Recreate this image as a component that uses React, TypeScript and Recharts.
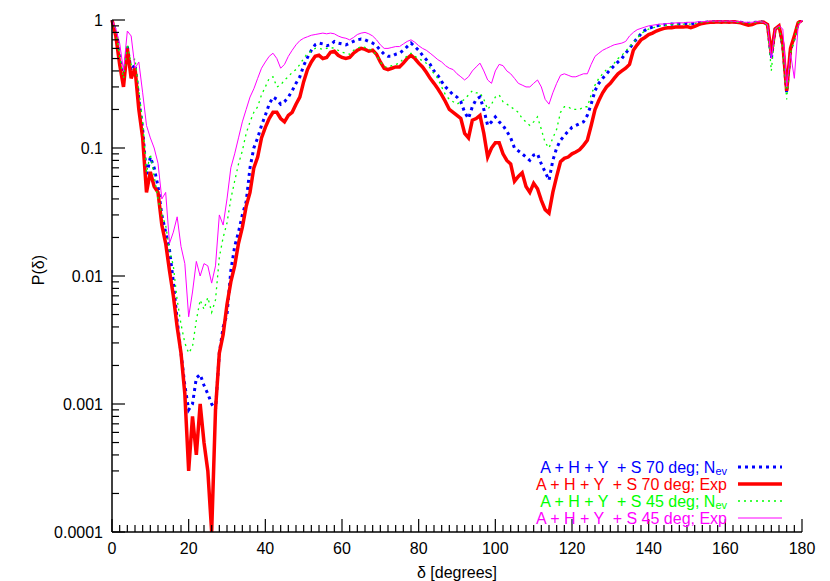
import React from 'react';
import { ComposedChart, Line, XAxis, YAxis } from 'recharts';

// angle in degrees, 1 degree step
const angles = Array.from({ length: 181 }, (_, i) => i);

const nev70 = [
  1.0, 0.8, 0.5, 0.33, 0.62, 0.4, 0.45, 0.24, 0.14, 0.06,
  0.085, 0.07, 0.05, 0.03, 0.022, 0.016, 0.009, 0.0045, 0.0025, 0.0014,
  0.0009, 0.001, 0.0016, 0.0017, 0.0014, 0.0012, 0.001, 0.0009, 0.0025, 0.004,
  0.005, 0.011, 0.017, 0.022, 0.03, 0.038, 0.07, 0.1, 0.12, 0.15,
  0.18, 0.22, 0.25, 0.24, 0.22, 0.23, 0.25, 0.28, 0.32, 0.36,
  0.44, 0.51, 0.58, 0.64, 0.66, 0.65, 0.63, 0.64, 0.68, 0.66,
  0.65, 0.64, 0.66, 0.68, 0.7, 0.71, 0.7, 0.68, 0.66, 0.63,
  0.58, 0.54, 0.52, 0.52, 0.54, 0.55, 0.58, 0.62, 0.66, 0.62,
  0.58, 0.53, 0.49, 0.45, 0.4, 0.37, 0.33, 0.3, 0.28, 0.26,
  0.25, 0.23, 0.19, 0.17, 0.21, 0.24, 0.25, 0.2, 0.15, 0.16,
  0.175, 0.16, 0.15, 0.135, 0.12, 0.1, 0.095, 0.09, 0.085, 0.08,
  0.088, 0.09, 0.075, 0.065, 0.056, 0.08, 0.1, 0.115, 0.125, 0.135,
  0.145, 0.15, 0.155, 0.16, 0.18, 0.22, 0.28, 0.32, 0.35, 0.38,
  0.41, 0.44, 0.47, 0.5, 0.55, 0.6, 0.66, 0.72, 0.78, 0.83,
  0.86, 0.88, 0.9, 0.91, 0.92, 0.92, 0.93, 0.92, 0.93, 0.93,
  0.94, 0.93, 0.94, 0.95, 0.96, 0.96, 0.97, 0.97, 0.97, 0.97,
  0.97, 0.97, 0.97, 0.96, 0.96, 0.95, 0.94, 0.95, 0.96, 0.97,
  0.96, 0.92, 0.5, 0.85, 0.9, 0.62, 0.27, 0.58, 0.72, 0.95, 1.0,
];

const exp70 = [
  1.0, 0.75, 0.45, 0.3, 0.6, 0.35, 0.42, 0.2, 0.12, 0.045,
  0.065, 0.05, 0.045, 0.025, 0.018, 0.011, 0.007, 0.004, 0.0025, 0.0012,
  0.0003, 0.0008, 0.0004, 0.001, 0.0005, 0.0003, 0.0001, 0.0009, 0.0025, 0.0035,
  0.006, 0.009, 0.012, 0.018, 0.024, 0.035, 0.045, 0.07, 0.085, 0.12,
  0.145, 0.17, 0.19, 0.19, 0.17, 0.16, 0.18, 0.19, 0.22, 0.25,
  0.33, 0.41, 0.47, 0.52, 0.53, 0.5, 0.51, 0.56, 0.57, 0.53,
  0.51, 0.5, 0.51, 0.55, 0.58, 0.6, 0.59, 0.57, 0.58, 0.54,
  0.47, 0.42, 0.41, 0.42, 0.43, 0.43, 0.46, 0.5, 0.53, 0.5,
  0.46, 0.43, 0.39, 0.35, 0.32, 0.29, 0.26, 0.23, 0.2, 0.19,
  0.18, 0.17, 0.13, 0.12, 0.165, 0.17, 0.18, 0.13, 0.085, 0.1,
  0.11, 0.11, 0.09, 0.08, 0.075, 0.055, 0.06, 0.064, 0.05, 0.045,
  0.053, 0.048, 0.039, 0.033, 0.031, 0.045, 0.06, 0.078, 0.083, 0.085,
  0.09, 0.093, 0.097, 0.105, 0.115, 0.15, 0.2, 0.235, 0.27, 0.3,
  0.32, 0.35, 0.38, 0.4, 0.42, 0.45, 0.58, 0.64, 0.7, 0.73,
  0.77, 0.79, 0.82, 0.84, 0.86, 0.87, 0.87, 0.88, 0.88, 0.88,
  0.89, 0.87, 0.89, 0.92, 0.94, 0.95, 0.96, 0.96, 0.97, 0.96,
  0.97, 0.96, 0.97, 0.96, 0.95, 0.93, 0.91, 0.92, 0.95, 0.96,
  0.96, 0.92, 0.55, 0.85, 0.9, 0.65, 0.28, 0.6, 0.75, 0.95, 1.0,
];

const nev45 = [
  1.0, 0.82, 0.52, 0.35, 0.65, 0.45, 0.5, 0.28, 0.16, 0.064,
  0.09, 0.06, 0.04, 0.03, 0.025, 0.016, 0.012, 0.0065, 0.0042, 0.003,
  0.0025, 0.0028, 0.0045, 0.0065, 0.0055, 0.0068, 0.0052, 0.0065, 0.014, 0.02,
  0.026, 0.04, 0.055, 0.075, 0.095, 0.13, 0.16, 0.19, 0.21, 0.26,
  0.3, 0.35, 0.36, 0.3, 0.31, 0.34, 0.36, 0.39, 0.41, 0.45,
  0.5, 0.55, 0.57, 0.6, 0.6, 0.59, 0.6, 0.61, 0.6, 0.58,
  0.56, 0.55, 0.54, 0.58, 0.6, 0.62, 0.61, 0.59, 0.58, 0.53,
  0.47, 0.43, 0.43, 0.44, 0.45, 0.46, 0.5, 0.52, 0.55, 0.52,
  0.5, 0.48, 0.46, 0.42, 0.38, 0.35, 0.3, 0.26, 0.24, 0.23,
  0.22, 0.23, 0.24, 0.26, 0.28, 0.27, 0.27, 0.24, 0.2, 0.22,
  0.25, 0.26, 0.23, 0.22, 0.21, 0.2, 0.19, 0.17, 0.16, 0.15,
  0.16, 0.175, 0.14, 0.11, 0.1, 0.12, 0.14, 0.19, 0.21, 0.21,
  0.2, 0.2, 0.2, 0.21, 0.21, 0.26, 0.31, 0.35, 0.38, 0.41,
  0.43, 0.46, 0.5, 0.53, 0.57, 0.62, 0.66, 0.72, 0.78, 0.82,
  0.85, 0.87, 0.88, 0.9, 0.91, 0.91, 0.92, 0.92, 0.93, 0.93,
  0.93, 0.93, 0.94, 0.95, 0.96, 0.96, 0.97, 0.97, 0.97, 0.97,
  0.97, 0.97, 0.97, 0.96, 0.96, 0.95, 0.94, 0.95, 0.96, 0.97,
  0.96, 0.9, 0.4, 0.85, 0.9, 0.6, 0.24, 0.55, 0.7, 0.95, 1.0,
];

const exp45 = [
  1.0, 0.85, 0.66, 0.4, 0.82, 0.75, 0.42, 0.47, 0.27, 0.15,
  0.12, 0.1, 0.076, 0.04, 0.045, 0.018, 0.022, 0.029, 0.017, 0.0125,
  0.0048, 0.0075, 0.013, 0.01, 0.0125, 0.012, 0.0088, 0.012, 0.03, 0.025,
  0.04, 0.07, 0.09, 0.12, 0.16, 0.2, 0.25, 0.29, 0.35, 0.42,
  0.47, 0.52, 0.55, 0.5, 0.42, 0.45, 0.52, 0.58, 0.64, 0.69,
  0.72, 0.74, 0.76, 0.77, 0.78, 0.79, 0.78, 0.79, 0.78, 0.75,
  0.73, 0.72, 0.7, 0.73, 0.77, 0.79, 0.8, 0.78, 0.75, 0.7,
  0.64, 0.6, 0.6, 0.61, 0.62, 0.62, 0.65, 0.68, 0.7, 0.67,
  0.63, 0.6, 0.58, 0.55, 0.52, 0.49, 0.47, 0.44, 0.42, 0.41,
  0.38, 0.36, 0.34, 0.36, 0.4, 0.43, 0.46, 0.4, 0.34, 0.32,
  0.4, 0.45, 0.44, 0.4, 0.38, 0.35, 0.32, 0.31, 0.3, 0.3,
  0.32, 0.34, 0.3, 0.24, 0.22, 0.27, 0.32, 0.37, 0.38, 0.37,
  0.36, 0.36, 0.37, 0.38, 0.38, 0.45, 0.52, 0.55, 0.58, 0.6,
  0.62, 0.64, 0.65, 0.66, 0.68, 0.75, 0.8, 0.84, 0.86, 0.88,
  0.9, 0.91, 0.92, 0.93, 0.93, 0.94, 0.94, 0.95, 0.95, 0.95,
  0.96, 0.96, 0.96, 0.97, 0.97, 0.97, 0.98, 0.98, 0.98, 0.98,
  0.98, 0.98, 0.98, 0.97, 0.97, 0.96, 0.96, 0.96, 0.97, 0.97,
  0.96, 0.92, 0.5, 0.85, 0.9, 0.85, 0.3, 0.55, 0.35, 0.9, 1.0,
];

const xTicks = Array.from({ length: 91 }, (_, i) => i * 2);
const yTicks = [
  0.0001, 0.0002, 0.0003, 0.0004, 0.0005, 0.0006, 0.0007, 0.0008, 0.0009,
  0.001, 0.002, 0.003, 0.004, 0.005, 0.006, 0.007, 0.008, 0.009,
  0.01, 0.02, 0.03, 0.04, 0.05, 0.06, 0.07, 0.08, 0.09,
  0.1, 0.2, 0.3, 0.4, 0.5, 0.6, 0.7, 0.8, 0.9, 1,
];

const series = [
  { key: 'nev70', label: 'A + H + Y  + S 70 deg; N', sub: 'ev', color: '#0000ff', width: 3, dash: '3 4' },
  { key: 'exp70', label: 'A + H + Y  + S 70 deg; Exp', sub: '', color: '#ff0000', width: 3.5, dash: undefined },
  { key: 'nev45', label: 'A + H + Y  + S 45 deg; N', sub: 'ev', color: '#00ff00', width: 1.3, dash: '2 4' },
  { key: 'exp45', label: 'A + H + Y  + S 45 deg; Exp', sub: '', color: '#ff00ff', width: 1, dash: undefined },
];

const data = angles.map((a, i) => ({
  angle: a,
  nev70: nev70[i],
  exp70: exp70[i],
  nev45: nev45[i],
  exp45: exp45[i],
}));

const FONT = '"Liberation Sans", Arial, Helvetica, sans-serif';
const W = 830;
const H = 581;

const isDecade = (v: number) => Math.abs(Math.log10(v) - Math.round(Math.log10(v))) < 1e-9;

const BottomTick = (props: any) => {
  const { x, y, payload } = props;
  const major = payload.value % 20 === 0;
  return (
    <g>
      <line x1={x} y1={y} x2={x} y2={y - (major ? 13 : 7)} stroke="#000" strokeWidth={1.2} />
      {major && (
        <text x={x} y={y + 11} dy="0.71em" textAnchor="middle" fontSize={16} fontFamily={FONT} fill="#000">
          {payload.value}
        </text>
      )}
    </g>
  );
};

const TopTick = (props: any) => {
  const { x, y, payload } = props;
  const major = payload.value % 20 === 0;
  return <line x1={x} y1={y} x2={x} y2={y + (major ? 13 : 7)} stroke="#000" strokeWidth={1.2} />;
};

const LeftTick = (props: any) => {
  const { x, y, payload } = props;
  const major = isDecade(payload.value);
  return (
    <g>
      <line x1={x} y1={y} x2={x + (major ? 13 : 7)} y2={y} stroke="#000" strokeWidth={1.2} />
      {major && (
        <text x={x - 9} y={y} dy="0.355em" textAnchor="end" fontSize={16} fontFamily={FONT} fill="#000">
          {String(payload.value)}
        </text>
      )}
    </g>
  );
};

const RightTick = (props: any) => {
  const { x, y, payload } = props;
  const major = isDecade(payload.value);
  return <line x1={x} y1={y} x2={x - (major ? 13 : 7)} y2={y} stroke="#000" strokeWidth={1.2} />;
};

const Legend = () => (
  <svg width={W} height={H} style={{ position: 'absolute', left: 0, top: 0, pointerEvents: 'none' }}>
    {series.map((s, i) => {
      const base = 473 + i * 17;
      return (
        <g key={s.key}>
          <text
            x={727}
            y={base}
            textAnchor="end"
            fontSize={16}
            fontFamily={FONT}
            fill={s.color}
            style={{ whiteSpace: 'pre' }}
          >
            {s.label}
            {s.sub && (
              <tspan dy={2} fontSize={11}>
                {s.sub}
              </tspan>
            )}
          </text>
          <line
            x1={738}
            x2={782}
            y1={base - 6}
            y2={base - 6}
            stroke={s.color}
            strokeWidth={s.width}
            strokeDasharray={s.dash}
          />
        </g>
      );
    })}
  </svg>
);

export default function App() {
  return (
    <div style={{ position: 'absolute', left: 0, top: 0, width: W, height: H, background: '#fff' }}>
      <ComposedChart width={W} height={H} data={data} margin={{ top: 20, right: 28, bottom: 0, left: 0 }}>
        <XAxis
          xAxisId="b"
          dataKey="angle"
          type="number"
          domain={[0, 180]}
          ticks={xTicks}
          interval={0}
          height={49}
          tickSize={0}
          tickMargin={0}
          tickLine={false}
          axisLine={{ stroke: '#000', strokeWidth: 1.5 }}
          tick={<BottomTick />}
          label={{
            content: () => (
              <text x={457} y={578} textAnchor="middle" fontSize={16} fontFamily={FONT} fill="#000">
                δ [degrees]
              </text>
            ),
          }}
        />
        <XAxis
          xAxisId="t"
          orientation="top"
          dataKey="angle"
          type="number"
          domain={[0, 180]}
          ticks={xTicks}
          interval={0}
          height={0}
          tickSize={0}
          tickMargin={0}
          tickLine={false}
          axisLine={{ stroke: '#000', strokeWidth: 1.5 }}
          tick={<TopTick />}
        />
        <YAxis
          yAxisId="l"
          scale="log"
          domain={[0.0001, 1]}
          allowDataOverflow
          ticks={yTicks}
          interval={0}
          width={112}
          tickSize={0}
          tickMargin={0}
          tickLine={false}
          axisLine={{ stroke: '#000', strokeWidth: 1.5 }}
          tick={<LeftTick />}
          label={{
            content: () => (
              <text
                x={38}
                y={270}
                transform="rotate(-90, 38, 270)"
                textAnchor="middle"
                dy="0.355em"
                fontSize={16}
                fontFamily={FONT}
                fill="#000"
              >
                P(δ)
              </text>
            ),
          }}
        />
        <YAxis
          yAxisId="r"
          orientation="right"
          scale="log"
          domain={[0.0001, 1]}
          allowDataOverflow
          ticks={yTicks}
          interval={0}
          width={0}
          tickSize={0}
          tickMargin={0}
          tickLine={false}
          axisLine={{ stroke: '#000', strokeWidth: 1.5 }}
          tick={<RightTick />}
        />
        {series.map((s) => (
          <Line
            key={s.key}
            xAxisId="b"
            yAxisId="l"
            type="linear"
            dataKey={s.key}
            stroke={s.color}
            strokeWidth={s.width}
            strokeDasharray={s.dash}
            dot={false}
            activeDot={false}
            isAnimationActive={false}
          />
        ))}
      </ComposedChart>
      <Legend />
    </div>
  );
}
